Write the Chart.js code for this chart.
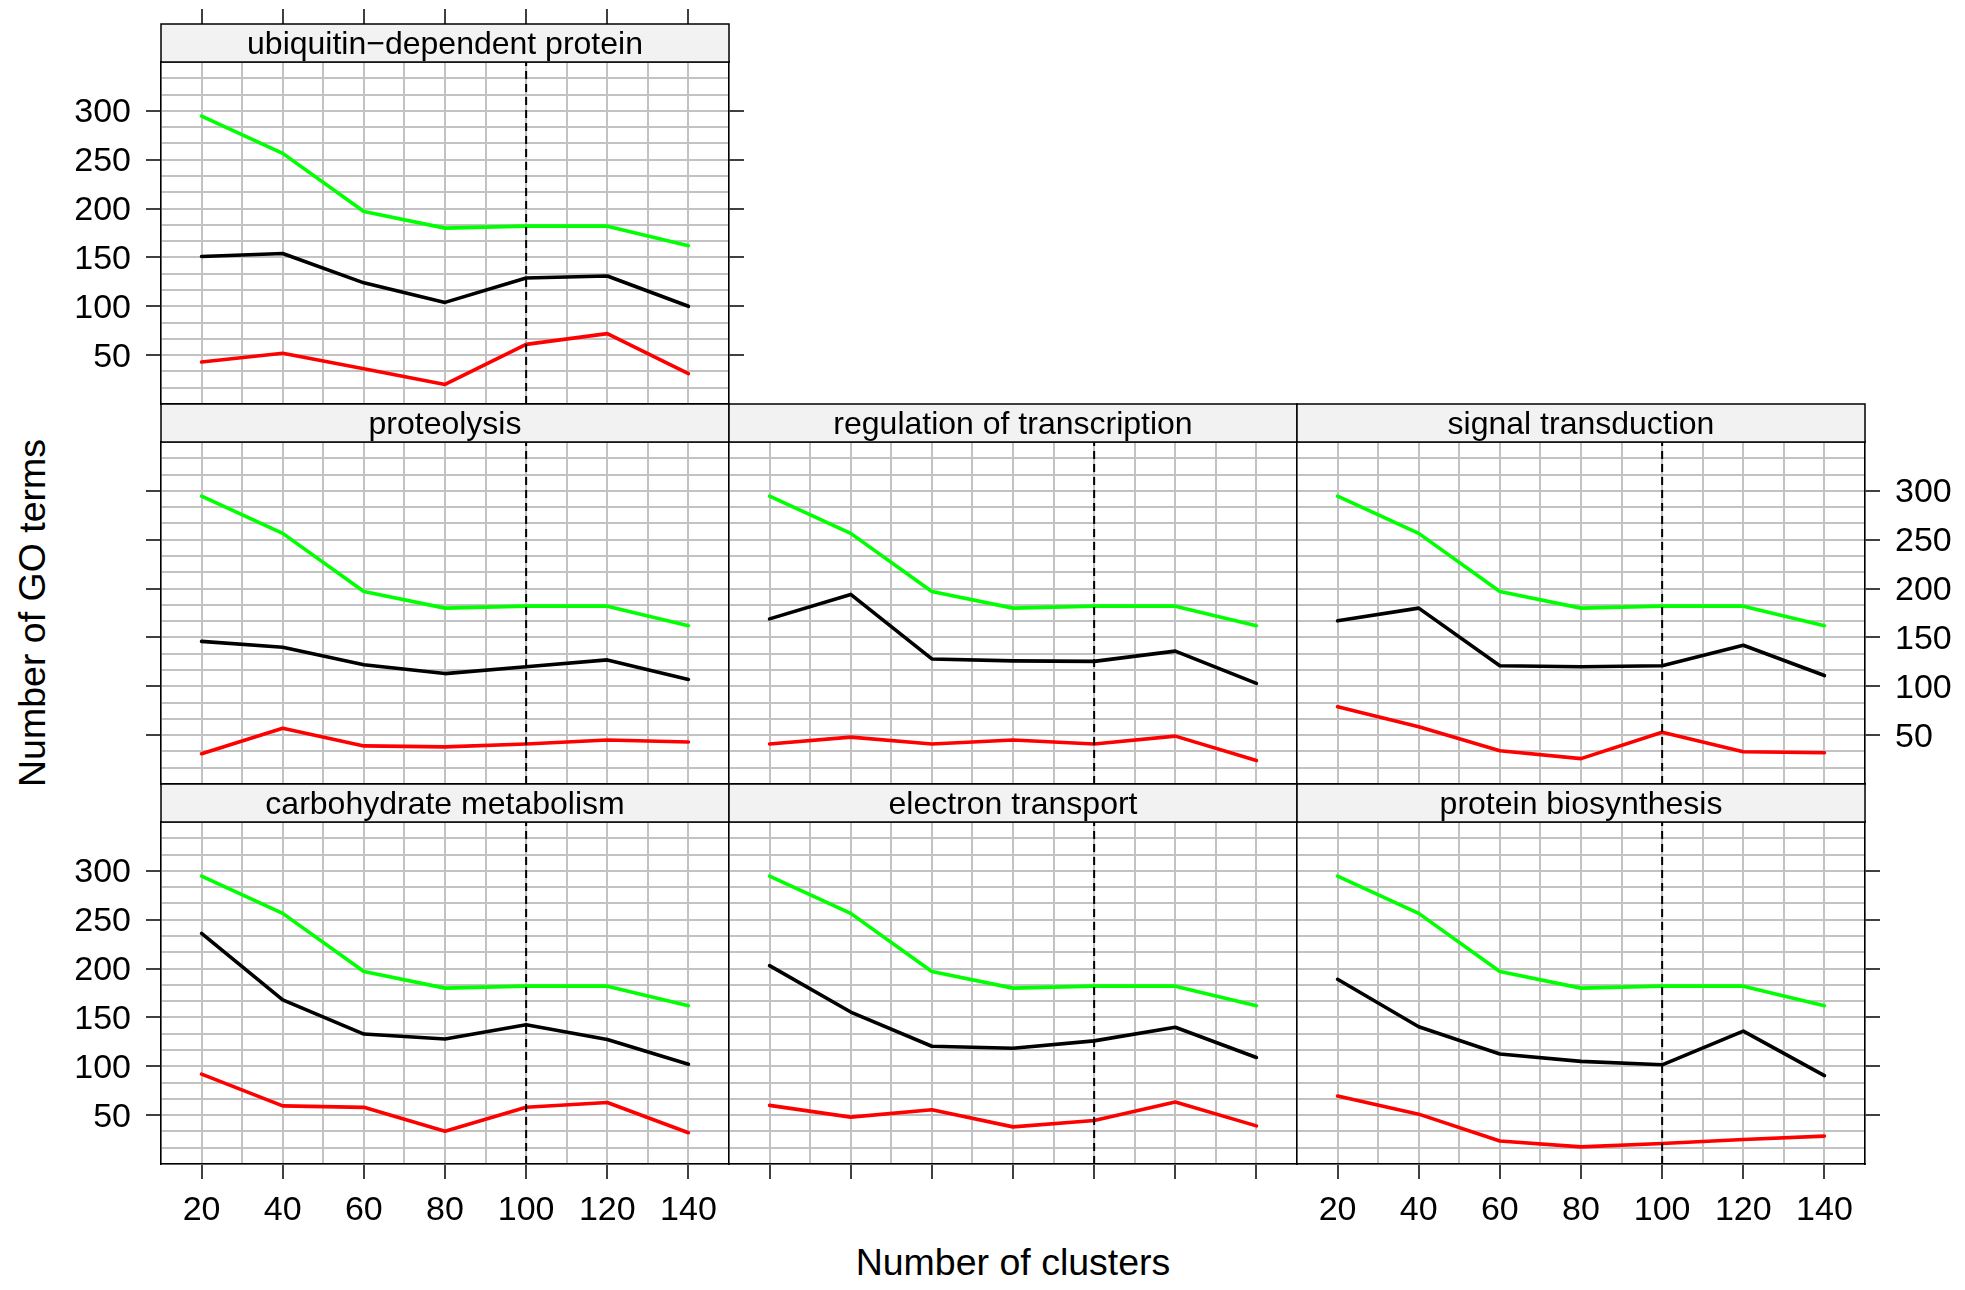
<!DOCTYPE html>
<html>
<head>
<meta charset="utf-8">
<script src="https://cdn.jsdelivr.net/npm/chart.js@4.4.1/dist/chart.umd.min.js"></script>
<style>
  body { margin: 0; background: #fff; }
  #fig { position: relative; width: 1965px; height: 1290px; overflow: hidden; font-family: 'Liberation Sans', Arial, sans-serif; }
  #fig canvas { position: absolute; }
  .axis-title { position: absolute; font-size: 37.5px; line-height: 37px; white-space: nowrap; color: #000; }
  #xTitle { left: 1013px; top: 1244px; transform: translateX(-50%); }
  #yTitle { left: 32px; top: 613px; transform: translate(-50%, -50%) rotate(-90deg); }
</style>
</head>
<body>
<div id="fig">
  <div class="axis-title" id="xTitle">Number of clusters</div>
  <div class="axis-title" id="yTitle">Number of GO terms</div>
</div>
<script>
// ---- data ----
const clusters = [20, 40, 60, 80, 100, 120, 140];
const xTickLabels = [20, 40, 60, 80, 100, 120, 140];
const yTickLabels = [50, 100, 150, 200, 250, 300];
const cutoff = 100; // dashed reference line

const panelTitles = [
  'ubiquitin\u2212dependent protein',
  'proteolysis',
  'regulation of transcription',
  'signal transduction',
  'carbohydrate metabolism',
  'electron transport',
  'protein biosynthesis'
];

// green curve is the same in every panel
const greenTerms = [294.5, 256.5, 197, 180, 182, 182, 162];

const ubiquitinBlack    = [151, 154, 124, 104, 129, 131, 100];
const ubiquitinRed      = [43, 52, 36, 20, 61, 72, 31];
const proteolysisBlack  = [146, 140, 122, 113, 120, 127, 107];
const proteolysisRed    = [31, 57, 39, 38, 41, 45, 43];
const regulationBlack   = [169, 194, 128, 126, 125.5, 136, 103];
const regulationRed     = [41, 48, 41, 45, 41, 49, 24];
const signalBlack       = [167, 180, 121, 120, 121, 142, 111];
const signalRed         = [79, 58.5, 34, 26, 53, 33, 32];
const carbohydrateBlack = [236, 168, 133, 128, 142.5, 127.5, 102];
const carbohydrateRed   = [92, 59.5, 58, 33.5, 58, 63, 32];
const electronBlack     = [203, 155.5, 120.5, 118.5, 126, 140, 109];
const electronRed       = [60, 48, 55.5, 38, 44.5, 63.5, 39];
const biosynthBlack     = [189, 140.5, 112.5, 105, 101.5, 136, 90.5];
const biosynthRed       = [69.5, 51, 23.5, 17.5, 21, 25, 28.5];

const blackSeries = [ubiquitinBlack, proteolysisBlack, regulationBlack, signalBlack, carbohydrateBlack, electronBlack, biosynthBlack];
const redSeries   = [ubiquitinRed, proteolysisRed, regulationRed, signalRed, carbohydrateRed, electronRed, biosynthRed];

// ---- layout (lattice style 3x3 grid, top row has one panel) ----
const X_MIN = 10, X_MAX = 150, Y_MIN = 0, Y_MAX = 350;
const PW = 568, PH = 342, STRIP_H = 38, TICK = 15, M = 110;
const GRID = '#c2c2c2';

// row, col, and what each side shows: 0 nothing, 1 ticks, 2 ticks + labels
const slots = [
  { r: 0, c: 0, top: 1, left: 2, right: 1, bottom: 0 },
  { r: 1, c: 0, top: 0, left: 1, right: 0, bottom: 0 },
  { r: 1, c: 1, top: 0, left: 0, right: 0, bottom: 0 },
  { r: 1, c: 2, top: 0, left: 0, right: 2, bottom: 0 },
  { r: 2, c: 0, top: 0, left: 2, right: 0, bottom: 2 },
  { r: 2, c: 1, top: 0, left: 0, right: 0, bottom: 1 },
  { r: 2, c: 2, top: 0, left: 0, right: 1, bottom: 2 }
];

const xGrid = [];
for (let v = X_MIN; v <= X_MAX; v += 10) xGrid.push(v);
const yGrid = [];
for (let i = 0; i <= 21; i++) yGrid.push(i * (Y_MAX - Y_MIN) / 21);

Chart.defaults.font.family = "'Liberation Sans', Arial, sans-serif";
Chart.defaults.color = '#000';

const stripPlugin = {
  id: 'strip',
  afterDraw(chart, args, opts) {
    const { ctx, chartArea: { left, right, top } } = chart;
    ctx.save();
    ctx.fillStyle = '#f2f2f2';
    ctx.fillRect(left, top - STRIP_H, right - left, STRIP_H);
    ctx.strokeStyle = '#000';
    ctx.lineWidth = 1.5;
    ctx.strokeRect(left, top - STRIP_H, right - left, STRIP_H);
    ctx.fillStyle = '#000';
    ctx.font = "32px 'Liberation Sans', Arial, sans-serif";
    ctx.textAlign = 'center';
    ctx.textBaseline = 'alphabetic';
    ctx.fillText(opts.title, (left + right) / 2, top - 8.5);
    ctx.restore();
  }
};

function xAxis(position, mode, tickLength) {
  return {
    type: 'linear', position, min: X_MIN, max: X_MAX,
    afterBuildTicks: s => { s.ticks = xGrid.map(v => ({ value: v })); },
    afterFit: s => { s.height = M; },
    border: { display: true, color: '#000', width: 1.5 },
    grid: {
      drawOnChartArea: position === 'bottom',
      color: GRID, lineWidth: 2,
      tickLength, tickWidth: 1.5,
      tickColor: c => (mode > 0 && c.tick && xTickLabels.includes(c.tick.value)) ? '#000' : 'rgba(0,0,0,0)'
    },
    ticks: {
      autoSkip: false, maxRotation: 0, minRotation: 0, padding: 11,
      font: { size: 34 },
      callback: v => (mode === 2 && xTickLabels.includes(v)) ? String(v) : ''
    }
  };
}

function yAxis(position, mode) {
  return {
    type: 'linear', position, min: Y_MIN, max: Y_MAX,
    afterBuildTicks: s => { s.ticks = yGrid.map(v => ({ value: v })); },
    afterFit: s => { s.width = M; },
    border: { display: true, color: '#000', width: 1.5 },
    grid: {
      drawOnChartArea: position === 'left',
      color: GRID, lineWidth: 2,
      tickLength: TICK, tickWidth: 1.5,
      tickColor: c => (mode > 0 && c.tick && yTickLabels.includes(c.tick.value)) ? '#000' : 'rgba(0,0,0,0)'
    },
    ticks: {
      autoSkip: false, maxRotation: 0, minRotation: 0, padding: 15,
      labelOffset: 2,
      font: { size: 34 },
      callback: v => (mode === 2 && yTickLabels.includes(v)) ? String(v) : ''
    }
  };
}

function line(vals, color) {
  return {
    data: clusters.map((x, i) => ({ x, y: vals[i] })),
    borderColor: color, borderWidth: 3.6, pointRadius: 0, tension: 0,
    borderJoinStyle: 'round', borderCapStyle: 'round', order: 1
  };
}

const fig = document.getElementById('fig');

slots.forEach((slot, i) => {
  const canvas = document.createElement('canvas');
  const plotLeft = 161 + slot.c * PW;
  const plotTop = 62 + slot.r * (PH + STRIP_H);
  canvas.width = PW + 2 * M;
  canvas.height = PH + 2 * M;
  canvas.style.left = (plotLeft - M) + 'px';
  canvas.style.top = (plotTop - M) + 'px';
  canvas.style.width = canvas.width + 'px';
  canvas.style.height = canvas.height + 'px';
  fig.appendChild(canvas);

  new Chart(canvas, {
    type: 'line',
    data: {
      datasets: [
        {
          data: [{ x: cutoff, y: Y_MIN }, { x: cutoff, y: Y_MAX }],
          borderColor: '#000', borderWidth: 2, borderDash: [8, 5],
          pointRadius: 0, order: 0
        },
        line(blackSeries[i], '#000000'),
        line(redSeries[i], '#ff0000'),
        line(greenTerms, '#00ff00')
      ]
    },
    options: {
      responsive: false,
      animation: false,
      devicePixelRatio: 1,
      events: [],
      layout: { padding: 0 },
      plugins: {
        legend: { display: false },
        tooltip: { enabled: false },
        strip: { title: panelTitles[i] }
      },
      scales: {
        x: xAxis('bottom', slot.bottom, TICK),
        x2: xAxis('top', slot.top, STRIP_H + TICK),
        y: yAxis('left', slot.left),
        y2: yAxis('right', slot.right)
      }
    },
    plugins: [stripPlugin]
  });
});
</script>
</body>
</html>
